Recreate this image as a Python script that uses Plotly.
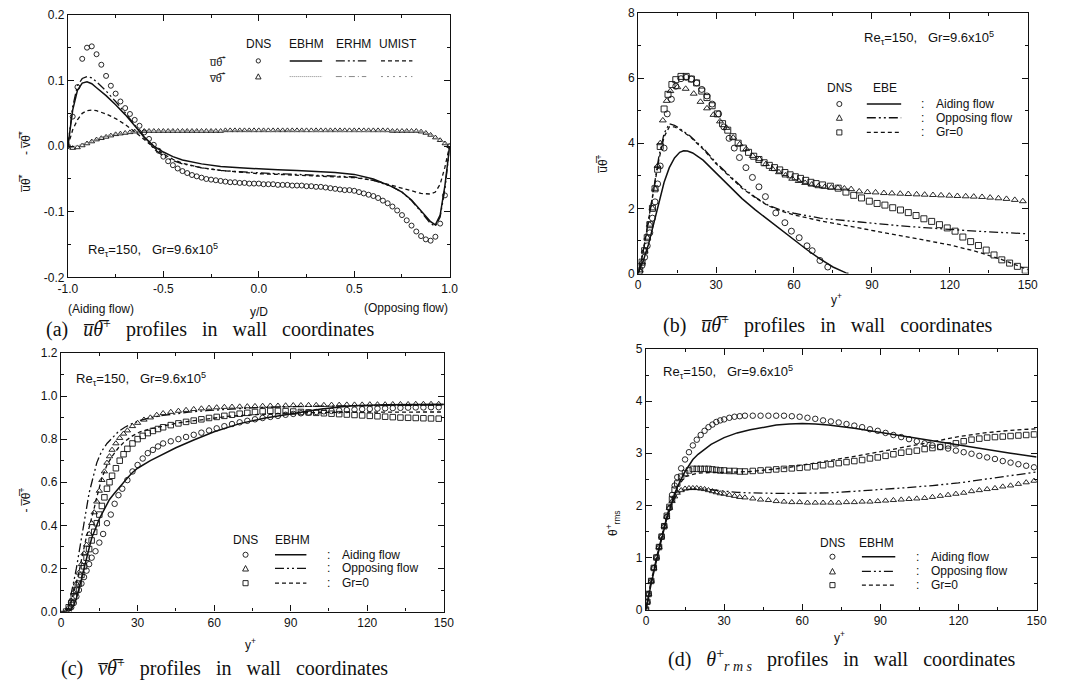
import plotly.graph_objects as go

W, H = 1079, 696

# ---------------- Panel (a): u-theta and -v-theta vs y/D ----------------
A_X = [-1.000,-0.975,-0.950,-0.925,-0.900,-0.875,-0.850,-0.825,-0.800,-0.775,
       -0.750,-0.725,-0.700,-0.675,-0.650,-0.625,-0.600,-0.575,-0.550,-0.525,
       -0.500,-0.475,-0.450,-0.425,-0.400,-0.375,-0.350,-0.325,-0.300,-0.275,
       -0.250,-0.225,-0.200,-0.175,-0.150,-0.125,-0.100,-0.075,-0.050,-0.025,
       0.000,0.025,0.050,0.075,0.100,0.125,0.150,0.175,0.200,0.225,
       0.250,0.275,0.300,0.325,0.350,0.375,0.400,0.425,0.450,0.475,
       0.500,0.525,0.550,0.575,0.600,0.625,0.650,0.675,0.700,0.725,
       0.750,0.775,0.800,0.825,0.850,0.875,0.900,0.925,0.950,0.975,1.000]
A_DNS_UT = [0.000,0.045,0.090,0.133,0.150,0.152,0.140,0.124,0.107,0.092,
            0.080,0.068,0.058,0.049,0.040,0.031,0.021,0.011,0.002,-0.007,
            -0.016,-0.023,-0.029,-0.034,-0.038,-0.041,-0.044,-0.046,-0.048,-0.050,
            -0.051,-0.052,-0.053,-0.054,-0.055,-0.055,-0.056,-0.056,-0.057,-0.057,
            -0.057,-0.058,-0.058,-0.058,-0.059,-0.059,-0.059,-0.060,-0.060,-0.060,
            -0.061,-0.061,-0.062,-0.062,-0.063,-0.064,-0.065,-0.066,-0.067,-0.067,
            -0.068,-0.070,-0.072,-0.074,-0.076,-0.079,-0.083,-0.087,-0.092,-0.098,
            -0.105,-0.113,-0.121,-0.130,-0.137,-0.142,-0.144,-0.138,-0.118,-0.075,0.000]
A_DNS_VT = [0.000,-0.003,-0.002,0.001,0.004,0.007,0.010,0.012,0.014,0.016,
            0.018,0.019,0.020,0.021,0.022,0.022,0.023,0.023,0.023,0.023,
            0.023,0.023,0.023,0.023,0.023,0.023,0.023,0.023,0.023,0.023,
            0.023,0.023,0.023,0.024,0.024,0.024,0.024,0.024,0.024,0.024,
            0.024,0.024,0.024,0.024,0.024,0.024,0.024,0.024,0.024,0.024,
            0.024,0.024,0.024,0.024,0.024,0.024,0.024,0.024,0.024,0.024,
            0.024,0.024,0.024,0.024,0.024,0.024,0.024,0.024,0.023,0.023,
            0.023,0.023,0.023,0.023,0.022,0.020,0.017,0.013,0.009,0.004,0.000]
A_LX_U = [-1.0,-0.99,-0.975,-0.95,-0.925,-0.9,-0.875,-0.85,-0.8,-0.75,-0.7,-0.65,-0.6,
          -0.55,-0.5,-0.45,-0.4,-0.3,-0.2,-0.1,0.0,0.1,0.2,0.3,0.4,0.5,0.6,0.7,0.75,
          0.8,0.85,0.9,0.925,0.95,0.975,0.99,1.0]
A_EBHM_UT = [0,0.02,0.055,0.085,0.096,0.098,0.095,0.089,0.077,0.063,0.048,0.031,0.014,
             0.000,-0.009,-0.016,-0.021,-0.027,-0.031,-0.033,-0.035,-0.036,-0.037,-0.038,
             -0.040,-0.043,-0.050,-0.062,-0.070,-0.082,-0.098,-0.115,-0.120,-0.105,-0.060,-0.020,0.0]
A_ERHM_UT = [0,0.025,0.06,0.092,0.103,0.106,0.104,0.098,0.084,0.068,0.051,0.032,0.013,
             -0.004,-0.015,-0.022,-0.027,-0.033,-0.037,-0.039,-0.041,-0.042,-0.043,-0.044,
             -0.045,-0.047,-0.052,-0.062,-0.070,-0.083,-0.100,-0.118,-0.122,-0.108,-0.065,-0.022,0.0]
A_UMIST_UT = [0,0.01,0.025,0.04,0.05,0.054,0.055,0.054,0.049,0.042,0.033,0.022,0.010,
              -0.002,-0.012,-0.020,-0.026,-0.033,-0.037,-0.040,-0.042,-0.043,-0.044,-0.045,
              -0.046,-0.048,-0.052,-0.060,-0.064,-0.069,-0.072,-0.073,-0.070,-0.058,-0.032,-0.012,0.0]
A_LX_V = [-1.0,-0.975,-0.95,-0.9,-0.85,-0.8,-0.75,-0.7,-0.65,-0.6,-0.4,-0.2,0.0,0.2,0.4,0.6,
          0.8,0.85,0.9,0.95,0.975,1.0]
A_EBHM_VT = [0.0,-0.002,0.0,0.005,0.010,0.015,0.018,0.020,0.022,0.023,0.023,0.023,0.023,
             0.023,0.023,0.023,0.023,0.022,0.018,0.010,0.005,0.0]
A_ERHM_VT = [0.0,-0.002,0.001,0.006,0.011,0.015,0.018,0.020,0.022,0.023,0.024,0.024,0.024,
             0.024,0.024,0.024,0.023,0.022,0.018,0.010,0.005,0.0]
A_UMIST_VT = [0.0,-0.001,0.001,0.006,0.011,0.016,0.019,0.021,0.022,0.023,0.023,0.023,0.023,
              0.023,0.023,0.023,0.022,0.021,0.017,0.009,0.004,0.0]

# ---------------- Panel (b): u-theta+ vs y+ ----------------
B_DNS_A_X = [0.5,1.5,2.5,3.5,4.5,5.5,6.5,7.5,8.5,10,11.2,12.8,14.5,16.5,18.5,20.5,22.5,24.5,
             26.5,28.5,31,33,35,37,39,41.5,44,46.5,49,53,56.5,59,62,65,67,70,73]
B_DNS_A_Y = [0.05,0.25,0.5,0.85,1.25,1.7,2.2,2.75,3.3,3.85,4.9,5.35,5.75,5.98,6.02,5.97,5.85,
             5.65,5.45,5.2,4.9,4.5,4.15,3.85,3.56,3.25,2.95,2.66,2.36,1.86,1.56,1.3,1.1,0.85,
             0.7,0.4,0.2]
B_DNS_O_X = [0.6,1.5,2.5,3.5,4.5,5.5,6.5,7.5,8.5,9.5,11,12.4,15.1,18.3,21.4,24,26.5,29,31.5,
             34,36.6,39.1,41.6,44.1,46.7,49.2,51.7,54.2,56.7,59.3,61.8,64.3,66.8,69.4,71.9,
             74.4,76.9,79.4,82,85.1,88.3,91.4,94.6,97.7,100.9,104,107.2,110.3,113.5,116.6,
             119.8,122.9,126.1,129.2,132.4,135.5,138.7,141.8,145,148.1]
B_DNS_O_Y = [0.1,0.35,0.7,1.1,1.5,2.0,2.6,3.3,4.0,4.7,5.3,5.6,5.72,5.67,5.52,5.27,5.07,4.87,
             4.67,4.47,4.17,3.97,3.82,3.61,3.51,3.36,3.21,3.11,3.01,2.91,2.84,2.78,2.73,2.68,
             2.66,2.64,2.63,2.61,2.59,2.52,2.5,2.49,2.47,2.46,2.45,2.44,2.43,2.42,2.41,2.40,
             2.39,2.38,2.37,2.36,2.35,2.33,2.31,2.29,2.26,2.22]
B_DNS_G_X = [0.6,1.5,2.5,3.5,4.5,5.5,6.5,7.5,8.5,10,11.5,13,14.5,16.5,18.5,20.5,22.5,24.5,
             26.5,28.5,30.5,32.5,34.5,36.5,38.5,40.5,42.5,44.5,46.5,48.5,50.5,52.5,54.5,56.5,
             58.5,60.5,62.5,64.5,66.5,68.5,71,74,77,80,83,86,89,92,95,98,101,104,107,110,113,
             116,119,122,125,128,131,134,137,140,143,146,149]
B_DNS_G_Y = [0.1,0.35,0.7,1.1,1.5,2.0,2.6,3.2,3.9,5.05,5.5,5.8,5.95,6.05,6.05,5.97,5.85,5.6,
             5.4,5.15,4.9,4.6,4.4,4.2,4.0,3.85,3.72,3.6,3.5,3.4,3.32,3.25,3.18,3.1,3.03,2.97,
             2.92,2.86,2.8,2.76,2.72,2.68,2.62,2.5,2.4,2.32,2.22,2.15,2.1,2.02,1.95,1.87,1.78,
             1.68,1.6,1.5,1.4,1.3,1.12,0.98,0.86,0.72,0.57,0.42,0.32,0.22,0.1]
B_LX_A = [0,2,4,6,8,10,12,14,16,17.5,19,21,25,30,35,40,45,50,55,60,65,70,75,80,81]
B_EBE_A = [0,0.4,0.9,1.55,2.2,2.8,3.25,3.55,3.72,3.77,3.76,3.7,3.48,3.08,2.68,2.3,1.96,1.65,
           1.35,1.03,0.73,0.45,0.2,0.02,0.0]
B_LX = [0,1,2,4,6,8,10,12,14,16,20,25,30,35,40,45,50,55,60,70,80,90,100,110,120,130,140,150]
B_EBE_O = [0,0.3,0.7,1.6,2.6,3.6,4.3,4.6,4.55,4.45,4.22,3.85,3.4,3.02,2.65,2.35,2.1,1.95,1.85,
           1.7,1.62,1.54,1.47,1.41,1.35,1.3,1.26,1.22]
B_EBE_G = [0,0.3,0.7,1.6,2.6,3.5,4.2,4.5,4.5,4.42,4.2,3.82,3.37,2.98,2.62,2.33,2.08,1.92,1.8,
           1.62,1.47,1.33,1.18,1.03,0.88,0.68,0.43,0.12]

# ---------------- Panel (c): -v-theta+ vs y+ ----------------
C_DNS_A_X = [3,4,5,6,7,8,9,10,11,12,13.5,15,16.5,18,19.5,21,22.5,24,26,28,30,32,34,36,38,40,
             43,46,49,52,55,58,61,64,67,70,73,76,79,82,85,88,91,94,97,100,103,106,109,112,
             115,118,121,124,127,130,133,136,139,142,145,148]
C_DNS_A_Y = [0.0,0.02,0.04,0.07,0.1,0.13,0.16,0.19,0.22,0.25,0.28,0.32,0.36,0.41,0.45,0.5,0.54,
             0.57,0.61,0.65,0.68,0.71,0.735,0.75,0.766,0.78,0.79,0.80,0.81,0.82,0.83,0.84,0.85,
             0.86,0.87,0.878,0.885,0.892,0.898,0.903,0.908,0.913,0.917,0.92,0.923,0.926,0.929,
             0.931,0.933,0.935,0.937,0.939,0.94,0.942,0.943,0.944,0.945,0.946,0.947,0.947,
             0.948,0.948]
C_DNS_O_X = [2,3,4,5,6,7,8,9,10,11,12,13,14,15,16,17,18,19,20,21.5,23,24.5,26,28,30,32.5,35,
             37.5,40,43,46,49,52,55,58,61,64,67,70,73,76,79,82,85,88,91,94,97,100,103,106,109,
             112,115,118,121,124,127,130,133,136,139,142,145,148]
C_DNS_O_Y = [0.0,0.02,0.05,0.09,0.13,0.18,0.22,0.27,0.31,0.36,0.41,0.46,0.51,0.56,0.61,0.65,
             0.69,0.72,0.75,0.78,0.805,0.825,0.84,0.86,0.875,0.89,0.9,0.912,0.92,0.926,0.931,
             0.935,0.939,0.942,0.945,0.947,0.949,0.95,0.951,0.952,0.953,0.954,0.955,0.955,0.956,
             0.957,0.957,0.958,0.958,0.958,0.959,0.959,0.96,0.96,0.96,0.961,0.961,0.961,0.962,
             0.962,0.962,0.963,0.963,0.963,0.963]
C_DNS_G_X = [2,3,4,5,6,7,8,9,10,11,12,13,14,15,16,17,18,19,20,21.5,23,24.5,26,28,30,32,34,36,
             38,40,43,46,49,52,55,58,61,64,67,70,73,76,79,82,85,88,91,94,97,100,103,106,109,
             112,115,118,121,124,127,130,133,136,139,142,145,148]
C_DNS_G_Y = [0.0,0.02,0.04,0.07,0.1,0.13,0.17,0.21,0.25,0.29,0.33,0.37,0.41,0.45,0.49,0.53,
             0.57,0.6,0.63,0.665,0.7,0.73,0.755,0.78,0.8,0.815,0.828,0.838,0.847,0.855,0.865,
             0.873,0.88,0.886,0.892,0.898,0.903,0.908,0.913,0.918,0.922,0.926,0.929,0.931,
             0.931,0.93,0.928,0.926,0.924,0.922,0.92,0.918,0.916,0.914,0.912,0.91,0.908,0.906,
             0.904,0.902,0.9,0.899,0.898,0.897,0.896,0.895]
C_LX_A = [0,2,3,4,5,6,7,8,9,10,11,12,13,14,15,17,19,21,23,26,28,30,35,40,45,52,60,70,80,90,
          102,114,127,150]
C_EBHM_A = [0,0,0,0.01,0.03,0.06,0.1,0.15,0.2,0.25,0.3,0.34,0.37,0.40,0.43,0.475,0.52,0.55,
            0.58,0.62,0.645,0.665,0.7,0.73,0.76,0.796,0.834,0.872,0.898,0.917,0.94,0.955,0.96,
            0.962]
C_LX = [0,2,3,4,5,6,7,8,9,10,11,12,13,14,15,16,18,20,22.5,25,28,31,35,40,45,50,57,65,75,90,
        110,130,150]
C_EBHM_O = [0,0.0,0.03,0.08,0.14,0.2,0.275,0.34,0.41,0.48,0.55,0.6,0.65,0.69,0.72,0.745,0.78,
            0.805,0.835,0.855,0.873,0.887,0.9,0.91,0.918,0.925,0.932,0.939,0.945,0.951,0.955,
            0.958,0.96]
C_EBHM_G = [0,0.0,0.02,0.05,0.09,0.13,0.18,0.24,0.3,0.35,0.39,0.43,0.48,0.53,0.58,0.62,0.68,
            0.72,0.76,0.79,0.815,0.834,0.848,0.862,0.873,0.882,0.894,0.905,0.913,0.921,0.925,
            0.926,0.926]

# ---------------- Panel (d): theta+_rms vs y+ ----------------
D_DNS_X = [0,0.5,1,2,3,4,5,6,7,8,9,10,11,12,13.5,15,16.5,18,19.5,21,22.5,24,25.5,27,28.5,30,
           32,34,36,38,41,44,47,50,53,56,59,62,65,68,71,74,77,80,83,86,89,92,95,98,101,104,
           107,110,113,116,119,122,125,128,131,134,137,140,143,146,149]
D_DNS_A_Y = [0,0.15,0.3,0.55,0.8,1.0,1.2,1.4,1.6,1.78,1.95,2.2,2.38,2.54,2.71,2.88,3.02,3.15,
             3.26,3.35,3.43,3.5,3.55,3.6,3.63,3.65,3.68,3.7,3.71,3.72,3.72,3.72,3.72,3.72,3.72,
             3.71,3.7,3.68,3.66,3.63,3.61,3.59,3.56,3.53,3.5,3.46,3.43,3.39,3.35,3.31,3.27,
             3.23,3.19,3.15,3.12,3.09,3.05,3.02,2.99,2.95,2.92,2.89,2.85,2.82,2.79,2.76,2.73]
D_DNS_O_Y = [0,0.15,0.3,0.55,0.8,1.0,1.2,1.4,1.6,1.78,1.95,2.08,2.17,2.24,2.29,2.32,2.33,2.33,
             2.33,2.32,2.31,2.29,2.27,2.25,2.23,2.22,2.2,2.18,2.16,2.15,2.13,2.11,2.1,2.08,
             2.07,2.06,2.06,2.05,2.05,2.05,2.05,2.05,2.06,2.06,2.07,2.07,2.08,2.09,2.1,2.11,
             2.12,2.13,2.14,2.16,2.18,2.2,2.22,2.24,2.27,2.29,2.31,2.33,2.36,2.38,2.41,2.44,2.47]
D_DNS_G_Y = [0,0.15,0.3,0.55,0.8,1.0,1.2,1.4,1.6,1.8,1.97,2.12,2.3,2.42,2.55,2.62,2.67,2.7,
             2.7,2.7,2.7,2.7,2.69,2.68,2.67,2.67,2.66,2.66,2.65,2.65,2.66,2.67,2.68,2.69,2.7,
             2.71,2.72,2.73,2.75,2.77,2.79,2.81,2.83,2.85,2.87,2.9,2.92,2.95,2.98,3.01,3.03,
             3.05,3.08,3.1,3.12,3.15,3.19,3.23,3.26,3.28,3.3,3.31,3.32,3.33,3.34,3.35,3.36]
D_LX = [0,2,5,8,10,12,15,18,20,25,30,35,40,45,50,55,60,65,70,80,90,100,110,120,130,140,150]
D_EBHM_A = [0,0.5,1.15,1.75,2.05,2.35,2.65,2.88,2.98,3.17,3.3,3.39,3.45,3.5,3.54,3.56,3.57,
            3.56,3.54,3.48,3.4,3.32,3.24,3.16,3.07,3.0,2.93]
D_EBHM_O = [0,0.55,1.2,1.78,2.05,2.22,2.3,2.32,2.32,2.3,2.27,2.25,2.24,2.23,2.23,2.23,2.23,
            2.23,2.24,2.27,2.3,2.34,2.38,2.43,2.5,2.57,2.64]
D_EBHM_G = [0,0.55,1.2,1.8,2.1,2.35,2.55,2.6,2.62,2.63,2.63,2.64,2.65,2.67,2.7,2.73,2.77,2.81,
            2.85,2.94,3.03,3.12,3.22,3.32,3.39,3.44,3.47]

# ---------------- styling ----------------
SANS = "Liberation Sans, Arial, sans-serif"
SERIF = "Liberation Serif, Times New Roman, serif"
INK = "#111111"
SOLID = dict(color=INK, width=1.5)
DASHDOT = dict(color=INK, width=1.3, dash="9px,3px,2px,3px,2px,3px")
DASH = dict(color=INK, width=1.3, dash="4px,3px")
GREY_SOLID = dict(color="#888", width=1.0, dash="1px,1px")
GREY_DASHDOT = dict(color="#888", width=1.0, dash="6px,3px,1px,3px")
GREY_DASH = dict(color="#888", width=1.0, dash="2px,4px")


def px(x):
    return x / W


def py(y):
    return 1 - y / H


def mk(symbol, size):
    return dict(symbol=symbol + "-open", size=size, color=INK, line=dict(width=0.9, color=INK))


fig = go.Figure()


def line(x, y, style, ax):
    fig.add_trace(go.Scatter(x=x, y=y, mode="lines", line=style, xaxis="x" + ax,
                             yaxis="y" + ax, showlegend=False, hoverinfo="skip"))


def pts(x, y, symbol, size, ax):
    fig.add_trace(go.Scatter(x=x, y=y, mode="markers", marker=mk(symbol, size),
                             xaxis="x" + ax, yaxis="y" + ax, showlegend=False,
                             hoverinfo="skip"))


# panel a
pts(A_X, A_DNS_VT, "triangle-up", 5, "")
line(A_LX_V, A_EBHM_VT, GREY_SOLID, "")
line(A_LX_V, A_ERHM_VT, GREY_DASHDOT, "")
line(A_LX_V, A_UMIST_VT, GREY_DASH, "")
pts(A_X, A_DNS_UT, "circle", 5, "")
line(A_LX_U, A_EBHM_UT, SOLID, "")
line(A_LX_U, A_ERHM_UT, DASHDOT, "")
line(A_LX_U, A_UMIST_UT, DASH, "")
# panel b
pts(B_DNS_A_X, B_DNS_A_Y, "circle", 6, "2")
pts(B_DNS_O_X, B_DNS_O_Y, "triangle-up", 6, "2")
pts(B_DNS_G_X, B_DNS_G_Y, "square", 6, "2")
line(B_LX_A, B_EBE_A, SOLID, "2")
line(B_LX, B_EBE_O, DASHDOT, "2")
line(B_LX, B_EBE_G, DASH, "2")
# panel c
pts(C_DNS_A_X, C_DNS_A_Y, "circle", 5.5, "3")
pts(C_DNS_O_X, C_DNS_O_Y, "triangle-up", 5.5, "3")
pts(C_DNS_G_X, C_DNS_G_Y, "square", 5.5, "3")
line(C_LX_A, C_EBHM_A, SOLID, "3")
line(C_LX, C_EBHM_O, DASHDOT, "3")
line(C_LX, C_EBHM_G, DASH, "3")
# panel d
pts(D_DNS_X, D_DNS_A_Y, "circle", 5.5, "4")
pts(D_DNS_X, D_DNS_O_Y, "triangle-up", 5.5, "4")
pts(D_DNS_X, D_DNS_G_Y, "square", 5.5, "4")
line(D_LX, D_EBHM_A, SOLID, "4")
line(D_LX, D_EBHM_O, DASHDOT, "4")
line(D_LX, D_EBHM_G, DASH, "4")


def axis(x0, x1, rng, vals, texts, minor_tick0, minor_dtick, anchor, horizontal):
    if horizontal:
        dom = [px(x0), px(x1)]
    else:
        dom = [py(x1), py(x0)]
    return dict(domain=dom, range=rng, anchor=anchor, showline=True, linecolor=INK,
                linewidth=1.2, mirror="ticks", ticks="inside", ticklen=6, tickwidth=1,
                tickcolor=INK, tickmode="array", tickvals=vals, ticktext=texts,
                minor=dict(ticks="inside", ticklen=3, tickwidth=1, tickcolor=INK,
                           tickmode="linear", tick0=minor_tick0, dtick=minor_dtick),
                showgrid=False, zeroline=False,
                tickfont=dict(family=SANS, size=12, color=INK))


YP = [0, 30, 60, 90, 120, 150]
YPT = ["0", "30", "60", "90", "120", "150"]

fig.update_layout(
    width=W, height=H, margin=dict(l=0, r=0, t=0, b=0),
    paper_bgcolor="white", plot_bgcolor="white",
    xaxis=axis(59, 448, [-1, 1], [-1, -0.5, 0, 0.5, 1], ["-1.0", "-0.5", "0.0", "0.5", "1.0"],
               -1, 0.25, "y", True),
    yaxis=axis(8, 276, [-0.2, 0.2], [-0.2, -0.1, 0, 0.1, 0.2],
               ["-0.2", "-0.1", "0.0", "0.1", "0.2"], -0.2, 0.05, "x", False),
    xaxis2=axis(640, 1037, [0, 150], YP, YPT, 0, 15, "y2", True),
    yaxis2=axis(6, 272, [0, 8], [0, 2, 4, 6, 8], ["0", "2", "4", "6", "8"], 0, 1, "x2", False),
    xaxis3=axis(52, 442, [0, 150], YP, YPT, 0, 15, "y3", True),
    yaxis3=axis(353, 617, [0, 1.2], [0, 0.2, 0.4, 0.6, 0.8, 1.0, 1.2],
                ["0.0", "0.2", "0.4", "0.6", "0.8", "1.0", "1.2"], 0, 0.1, "x3", False),
    xaxis4=axis(648, 1046, [0, 150], YP, YPT, 0, 15, "y4", True),
    yaxis4=axis(349, 615, [0, 5], [0, 1, 2, 3, 4, 5], ["0", "1", "2", "3", "4", "5"], 0, 0.5,
                "x4", False),
)

ann = []
shapes = []


def text(x, y, s, size=12, family=SANS, xanchor="center", angle=0):
    ann.append(dict(x=px(x), y=py(y), xref="paper", yref="paper", text=s, showarrow=False,
                    xanchor=xanchor, yanchor="middle", textangle=angle,
                    font=dict(family=family, size=size, color=INK)))


def seg(x0, x1, y, style):
    shapes.append(dict(type="line", xref="paper", yref="paper", x0=px(x0), x1=px(x1),
                       y0=py(y), y1=py(y), line=style))


def sym(kind, cx, cy, r=2.6):
    ln = dict(color=INK, width=0.9)
    if kind == "circle":
        shapes.append(dict(type="circle", xref="paper", yref="paper", x0=px(cx - r),
                           x1=px(cx + r), y0=py(cy + r), y1=py(cy - r), line=ln))
    elif kind == "square":
        shapes.append(dict(type="rect", xref="paper", yref="paper", x0=px(cx - r),
                           x1=px(cx + r), y0=py(cy + r), y1=py(cy - r), line=ln))
    else:
        path = "M %f,%f L %f,%f L %f,%f Z" % (px(cx - r - 0.4), py(cy + r), px(cx + r + 0.4),
                                             py(cy + r), px(cx), py(cy - r - 0.4))
        shapes.append(dict(type="path", xref="paper", yref="paper", path=path, line=ln))


OV = "\u0305"
UT = "u" + OV + "\u03b8" + OV
VT = "v" + OV + "\u03b8" + OV
NB = "\u00a0"
RE = "Re<sub>\u03c4</sub>=150," + NB * 3 + "Gr=9.6x10<sup>5</sup>"

# ---- panel a texts ----
text(77, 248, RE, 13, xanchor="left")
text(254, 311, "y/D", 12)
text(93, 308, "(Aiding flow)", 12)
text(403, 307, "(Opposing flow)", 12)
text(15, 158, UT + "<sup>*</sup>" + NB * 6 + "- " + VT + "<sup>*</sup>", 12, angle=-90)
text(253, 38, "DNS", 12)
text(302, 38, "EBHM", 12)
text(350, 38, "ERHM", 12)
text(395, 38, "UMIST", 12)
text(211, 55, UT + "<sup>*</sup>", 11)
text(211, 71, VT + "<sup>*</sup>", 11)
sym("circle", 253, 55, 2.2)
sym("triangle", 253, 71, 2.4)
seg(285, 318, 55, SOLID)
seg(332, 363, 55, DASHDOT)
seg(378, 410, 55, DASH)
seg(285, 318, 71, GREY_SOLID)
seg(332, 363, 71, GREY_DASHDOT)
seg(378, 410, 71, GREY_DASH)

# ---- panel b texts ----
text(868, 32, RE, 13, xanchor="left")
text(842, 298, "y<sup>+</sup>", 12)
text(603, 160, UT + "<sup>+</sup>", 12, angle=-90)
text(845, 83, "DNS", 12)
text(892, 83, "EBE", 12)
for (yy, k, st, lab) in [(99, "circle", SOLID, "Aiding flow"),
                         (113, "triangle", DASHDOT, "Opposing flow"),
                         (128, "square", DASH, "Gr=0")]:
    sym(k, 845, yy)
    seg(873, 908, yy, st)
    text(930, yy, ":", 12)
    text(941, yy, lab, 12, xanchor="left")

# ---- panel c texts ----
text(65, 380, RE, 13, xanchor="left")
text(245, 650, "y<sup>+</sup>", 12)
text(15, 503, "- " + VT + "<sup>+</sup>", 12, angle=-90)
text(240, 544, "DNS", 12)
text(288, 544, "EBHM", 12)
for (yy, k, st, lab) in [(559, "circle", SOLID, "Aiding flow"),
                         (573, "triangle", DASHDOT, "Opposing flow"),
                         (588, "square", DASH, "Gr=0")]:
    sym(k, 240, yy)
    seg(270, 302, yy, st)
    text(325, yy, ":", 12)
    text(336, yy, lab, 12, xanchor="left")

# ---- panel d texts ----
text(663, 373, RE, 13, xanchor="left")
text(845, 643, "y<sup>+</sup>", 12)
text(615, 527, "\u03b8<sup>+</sup><sub>rms</sub>", 12, angle=-90)
text(838, 547, "DNS", 12)
text(883, 547, "EBHM", 12)
for (yy, k, st, lab) in [(561, "circle", SOLID, "Aiding flow"),
                         (576, "triangle", DASHDOT, "Opposing flow"),
                         (590, "square", DASH, "Gr=0")]:
    sym(k, 838, yy)
    seg(868, 902, yy, st)
    text(925, yy, ":", 12)
    text(936, yy, lab, 12, xanchor="left")

# ---- captions ----
SP = NB * 3
text(35, 328, "(a)" + SP + "<i>" + UT + "</i><sup>+</sup>" + SP + "profiles" + SP + "in" + SP +
     "wall" + SP + "coordinates", 20, SERIF, xanchor="left")
text(663, 324, "(b)" + SP + "<i>" + UT + "</i><sup>+</sup>" + SP + "profiles" + SP + "in" + SP +
     "wall" + SP + "coordinates", 20, SERIF, xanchor="left")
text(50, 674, "(c)" + SP + "<i>" + VT + "</i><sup>+</sup>" + SP + "profiles" + SP + "in" + SP +
     "wall" + SP + "coordinates", 20, SERIF, xanchor="left")
text(668, 666, "(d)" + SP + "<i>\u03b8</i><sup>+</sup><sub><i>r m s</i></sub>" + SP + "profiles" +
     SP + "in" + SP + "wall" + SP + "coordinates", 20, SERIF, xanchor="left")

fig.update_layout(annotations=ann, shapes=shapes)
fig.write_html("out.html", config={"displayModeBar": False},
               post_script="document.body.style.margin='0px';")
